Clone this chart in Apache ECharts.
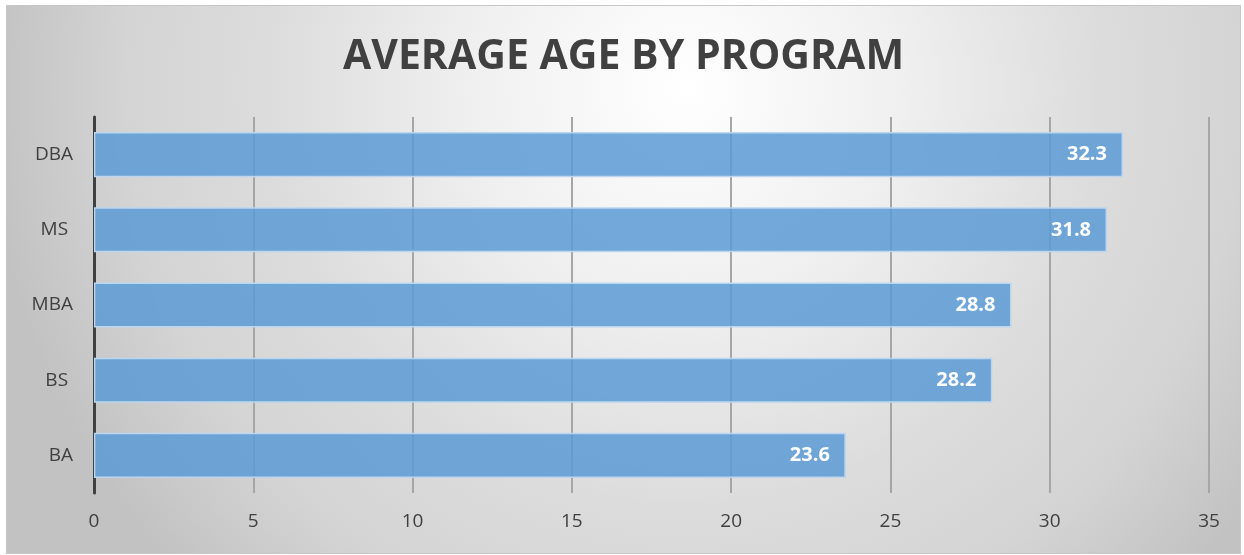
<!DOCTYPE html>
<html>
<head>
<meta charset="utf-8">
<script src="https://cdn.jsdelivr.net/npm/echarts@6/dist/echarts.min.js"></script>
<style>
html,body{margin:0;padding:0;background:#ffffff;}
#chart{position:absolute;left:6px;top:5px;width:1233px;height:547px;border:1px solid #c6c6c6;}
</style>
</head>
<body>
<div id="chart"></div>
<script>
const titleText = 'AVERAGE AGE BY PROGRAM';
const categories = ['BA', 'BS ', 'MBA', 'MS ', 'DBA'];
const averageAge = [23.6, 28.2, 28.8, 31.8, 32.3];
const axisMin = 0, axisMax = 35, axisStep = 5;

const chart = echarts.init(document.getElementById('chart'));
chart.setOption({
  backgroundColor: {
    type: 'radial', x: 0.55, y: 0.15, r: 1.28,
    colorStops: [
      {offset: 0, color: '#ffffff'},
      {offset: 0.3, color: '#f0f0f0'},
      {offset: 0.6, color: '#dcdcdc'},
      {offset: 0.8, color: '#d4d4d4'},
      {offset: 1, color: '#c2c2c2'}
    ]
  },
  title: {
    text: titleText, left: 'center', top: 26,
    textStyle: {fontFamily: 'Open Sans', fontWeight: 'bold', fontSize: 41, color: '#404040'}
  },
  grid: {left: 87, right: 31, top: 111, bottom: 60, containLabel: false},
  xAxis: {
    type: 'value', min: axisMin, max: axisMax, interval: axisStep,
    axisLine: {show: false}, axisTick: {show: false},
    splitLine: {show: true, lineStyle: {color: '#a6a6a6', width: 2}},
    axisLabel: {fontFamily: 'Open Sans', fontSize: 19, color: '#404040', margin: 19}
  },
  yAxis: {
    type: 'category', data: categories,
    axisLine: {show: true, lineStyle: {color: '#404040', width: 3}},
    axisTick: {show: false},
    axisLabel: {fontFamily: 'Open Sans', fontSize: 19, color: '#404040', margin: 21}
  },
  series: [{
    type: 'bar', data: averageAge, barCategoryGap: '40%',
    itemStyle: {color: 'rgba(91,155,213,0.85)', borderColor: '#bcd6ef', borderWidth: 1.5},
    label: {
      show: true, position: 'insideRight', distance: 16,
      fontFamily: 'Open Sans', fontWeight: 'bold', fontSize: 20, color: '#ffffff',
      formatter: p => p.value.toFixed(1)
    }
  }]
});
</script>
</body>
</html>
